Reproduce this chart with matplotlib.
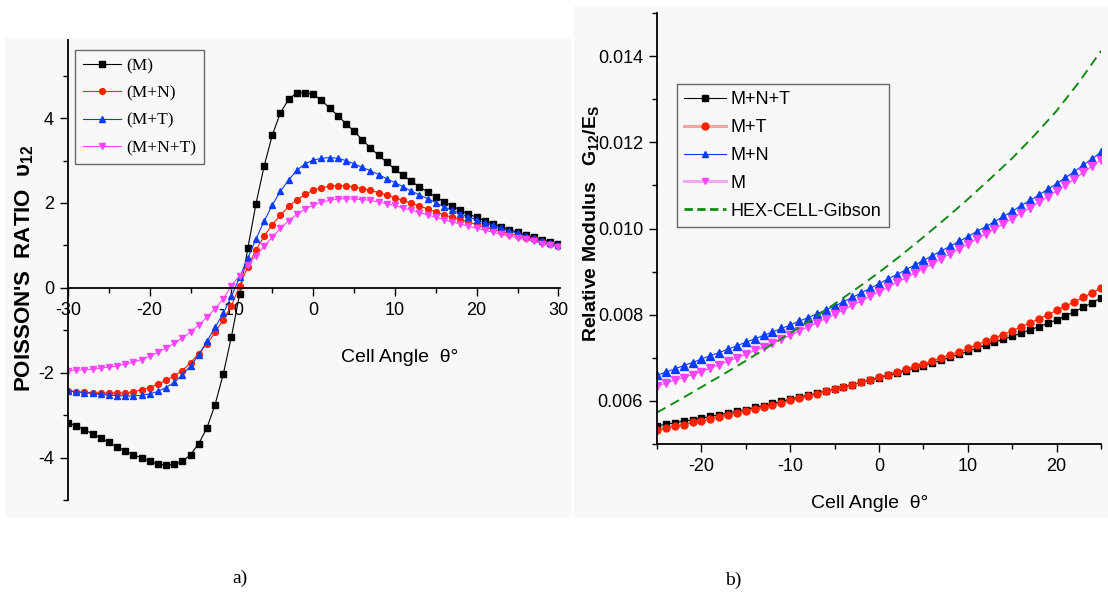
import numpy as np
import matplotlib.pyplot as plt
from matplotlib.lines import Line2D
from matplotlib.patches import Rectangle

plt.rcParams['font.family'] = ['Liberation Sans', 'DejaVu Sans']
plt.rcParams['axes.unicode_minus'] = False
plt.rcParams['mathtext.fontset'] = 'custom'
plt.rcParams['mathtext.rm'] = 'Liberation Sans:bold'
plt.rcParams['mathtext.default'] = 'rm'

# === panel a) : Poisson's ratio vs cell angle ===
angle_a = np.arange(-30, 31)
nu_M = [-3.18, -3.25, -3.34, -3.44, -3.54, -3.64, -3.75, -3.84, -3.93, -4.01,
        -4.09, -4.15, -4.18, -4.16, -4.09, -3.93, -3.67, -3.30, -2.75, -2.03,
        -1.15, -0.15, 0.93, 1.98, 2.87, 3.60, 4.13, 4.44, 4.60, 4.60,
        4.56, 4.42, 4.24, 4.06, 3.87, 3.69, 3.49, 3.30, 3.12, 2.96,
        2.79, 2.65, 2.51, 2.38, 2.26, 2.14, 2.03, 1.93, 1.83, 1.74,
        1.66, 1.58, 1.51, 1.44, 1.37, 1.31, 1.25, 1.19, 1.13, 1.08, 1.03]
nu_MN = [-2.43, -2.45, -2.46, -2.47, -2.48, -2.48, -2.48, -2.48, -2.45, -2.40,
         -2.35, -2.27, -2.18, -2.07, -1.95, -1.76, -1.55, -1.32, -1.05, -0.75,
         -0.42, 0.05, 0.50, 0.89, 1.22, 1.49, 1.71, 1.92, 2.07, 2.20,
         2.30, 2.36, 2.39, 2.41, 2.40, 2.38, 2.34, 2.30, 2.24, 2.19,
         2.12, 2.06, 1.99, 1.93, 1.86, 1.79, 1.72, 1.66, 1.61, 1.55,
         1.49, 1.43, 1.38, 1.32, 1.28, 1.23, 1.18, 1.14, 1.08, 1.04, 0.99]
nu_MT = [-2.42, -2.45, -2.47, -2.49, -2.51, -2.53, -2.54, -2.55, -2.55, -2.53,
         -2.50, -2.44, -2.35, -2.23, -2.05, -1.84, -1.58, -1.26, -0.93, -0.60,
         -0.20, 0.25, 0.70, 1.15, 1.57, 1.95, 2.28, 2.54, 2.77, 2.92,
         3.01, 3.05, 3.07, 3.05, 3.00, 2.92, 2.84, 2.76, 2.67, 2.57,
         2.48, 2.38, 2.28, 2.19, 2.10, 2.01, 1.91, 1.83, 1.75, 1.67,
         1.60, 1.53, 1.47, 1.40, 1.34, 1.29, 1.22, 1.17, 1.11, 1.06, 1.01]
nu_MNT = [-1.95, -1.94, -1.93, -1.92, -1.89, -1.87, -1.84, -1.80, -1.75, -1.69,
          -1.61, -1.52, -1.42, -1.31, -1.18, -1.04, -0.87, -0.69, -0.49, -0.26,
          0.05, 0.29, 0.53, 0.76, 0.98, 1.20, 1.40, 1.58, 1.73, 1.85,
          1.95, 2.02, 2.06, 2.09, 2.10, 2.09, 2.08, 2.06, 2.02, 1.98,
          1.94, 1.88, 1.83, 1.77, 1.72, 1.66, 1.61, 1.55, 1.51, 1.45,
          1.40, 1.36, 1.31, 1.26, 1.22, 1.18, 1.14, 1.10, 1.04, 1.00, 0.96]
labels_a = ['(M)', '(M+N)', '(M+T)', '(M+N+T)']

# === panel b) : relative shear modulus vs cell angle ===
angle_b = np.arange(-25, 26)
g_MNT = [0.00542, 0.00546, 0.00549, 0.00553, 0.00556, 0.00560,
         0.00564, 0.00568, 0.00572, 0.00576, 0.00580,
         0.00585, 0.00589, 0.00594, 0.00599, 0.00604,
         0.00609, 0.00613, 0.00618, 0.00623, 0.00628,
         0.00633, 0.00638, 0.00643, 0.00648, 0.00653,
         0.00659, 0.00664, 0.00670, 0.00676, 0.00682,
         0.00688, 0.00694, 0.00701, 0.00708, 0.00715,
         0.00722, 0.00729, 0.00736, 0.00743, 0.00750,
         0.00757, 0.00765, 0.00772, 0.00780, 0.00788,
         0.00797, 0.00807, 0.00817, 0.00828, 0.00839]
g_MT = [0.00533, 0.00537, 0.00541, 0.00545, 0.00550, 0.00554,
        0.00558, 0.00563, 0.00567, 0.00572, 0.00576,
        0.00581, 0.00586, 0.00591, 0.00596, 0.00601,
        0.00606, 0.00611, 0.00616, 0.00622, 0.00627,
        0.00632, 0.00638, 0.00643, 0.00649, 0.00655,
        0.00661, 0.00667, 0.00673, 0.00680, 0.00686,
        0.00693, 0.00700, 0.00707, 0.00714, 0.00722,
        0.00730, 0.00738, 0.00746, 0.00754, 0.00763,
        0.00772, 0.00781, 0.00790, 0.00800, 0.00810,
        0.00820, 0.00830, 0.00840, 0.00851, 0.00862]
g_MN = [0.00659, 0.00667, 0.00674, 0.00682, 0.00689, 0.00697,
        0.00705, 0.00712, 0.00720, 0.00728, 0.00736,
        0.00744, 0.00752, 0.00760, 0.00768, 0.00776,
        0.00785, 0.00793, 0.00802, 0.00811, 0.00820,
        0.00830, 0.00840, 0.00851, 0.00861, 0.00872,
        0.00883, 0.00893, 0.00904, 0.00915, 0.00926,
        0.00937, 0.00948, 0.00959, 0.00970, 0.00981,
        0.00993, 0.01004, 0.01016, 0.01028, 0.01040,
        0.01053, 0.01065, 0.01078, 0.01091, 0.01104,
        0.01118, 0.01132, 0.01147, 0.01162, 0.01177]
g_M = [0.00635, 0.00641, 0.00648, 0.00654, 0.00661, 0.00668,
       0.00676, 0.00684, 0.00692, 0.00700, 0.00708,
       0.00717, 0.00725, 0.00734, 0.00743, 0.00752,
       0.00762, 0.00772, 0.00781, 0.00791, 0.00801,
       0.00811, 0.00822, 0.00832, 0.00843, 0.00853,
       0.00864, 0.00875, 0.00885, 0.00896, 0.00907,
       0.00918, 0.00930, 0.00941, 0.00953, 0.00964,
       0.00976, 0.00988, 0.00999, 0.01011, 0.01023,
       0.01036, 0.01048, 0.01061, 0.01074, 0.01087,
       0.01101, 0.01115, 0.01130, 0.01145, 0.01160]
angle_gibson = np.arange(-25, 25.1, 2.5)
g_gibson = [0.00573, 0.00602, 0.00632, 0.00662, 0.00693, 0.00725, 0.00757,
            0.00790, 0.00825, 0.00861, 0.00898, 0.00938, 0.00980, 0.01023,
            0.01068, 0.01115, 0.01163, 0.01216, 0.01273, 0.01339, 0.01412]
labels_b = ['M+N+T', 'M+T', 'M+N', 'M', 'HEX-CELL-Gibson']

W, H = 1108, 594
bg = '#f8f8f8'
c_red, c_blue, c_pink, c_green = '#ff2200', '#0a3cff', '#ff44ff', '#138a13'


def fx(x):
    return x / W


def fy(y):
    return 1 - y / H


fig = plt.figure(figsize=(W / 100, H / 100), dpi=100)
fig.patch.set_facecolor('white')
fig.patches.append(Rectangle((fx(5), fy(516)), (570 - 5) / W, (516 - 38) / H,
                             transform=fig.transFigure, color=bg, zorder=-10))
fig.patches.append(Rectangle((fx(574), fy(516)), (1108 - 574) / W, (516 - 6) / H,
                             transform=fig.transFigure, color=bg, zorder=-10))

# ---------- left panel ----------
ax1 = fig.add_axes([fx(68), fy(500), (560 - 68) / W, (500 - 40) / H])
ax1.set_facecolor('none')
ms = 4.2
ax1.plot(angle_a, nu_M, '-s', color='black', lw=0.8, ms=ms, label=labels_a[0])
ax1.plot(angle_a, nu_MN, '-o', color=c_red, lw=0.8, ms=ms, label=labels_a[1])
ax1.plot(angle_a, nu_MT, '-^', color=c_blue, lw=0.8, ms=ms + 0.5, label=labels_a[2])
ax1.plot(angle_a, nu_MNT, '-v', color=c_pink, lw=0.8, ms=ms + 0.5, label=labels_a[3])
ax1.set_xlim(-30, 30.2)
ax1.set_ylim(-5, 5.84)
ax1.spines['bottom'].set_position(('data', 0))
ax1.spines[['top', 'right']].set_visible(False)
for s in ['left', 'bottom']:
    ax1.spines[s].set_linewidth(1.3)
ax1.set_xticks([-30, -20, -10, 0, 10, 20, 30])
ax1.set_xticks([-25, -15, -5, 5, 15, 25], minor=True)
ax1.set_yticks([-4, -2, 0, 2, 4])
ax1.set_yticks([-5, -3, -1, 1, 3, 5], minor=True)
ax1.tick_params(which='major', length=6, width=1, labelsize=13, pad=4)
ax1.tick_params(which='minor', length=3.5, width=1)
ax1.legend(loc='upper left', bbox_to_anchor=(fx(75), fy(50)), bbox_transform=fig.transFigure,
           prop={'family': 'Liberation Serif', 'size': 12.5}, fancybox=False,
           edgecolor='#666666', facecolor=bg, framealpha=1, borderaxespad=0,
           handlelength=2.2, handletextpad=0.3, labelspacing=0.65, borderpad=0.45)
fig.text(fx(400), fy(357), 'Cell Angle  θ°', fontsize=14, ha='center', va='center')
fig.text(fx(25), fy(268), "POISSON'S  RATIO  υ$_{12}$", fontsize=16, fontweight='bold',
         rotation=90, ha='center', va='center')
fig.text(fx(240), fy(578), 'a)', family='Liberation Serif', fontsize=14, ha='center', va='center')

# ---------- right panel ----------
ax2 = fig.add_axes([fx(657), fy(444), (1101 - 657) / W, (444 - 13) / H])
ax2.set_facecolor('none')
ms2 = 5
ax2.plot(angle_b, g_MNT, '-s', color='black', lw=0.8, ms=ms2 - 0.5)
ax2.plot(angle_b, g_MT, '-o', color=c_red, lw=0.8, ms=ms2)
ax2.plot(angle_b, g_MN, '-^', color=c_blue, lw=0.8, ms=ms2 + 0.5)
ax2.plot(angle_b, g_M, '-v', color=c_pink, lw=0.8, ms=ms2 + 0.5)
ax2.plot(angle_gibson, g_gibson, color=c_green, lw=1.4, ls=(0, (5, 3)))
ax2.set_xlim(-25, 25)
ax2.set_ylim(0.005, 0.015)
ax2.spines[['top', 'right']].set_visible(False)
for s in ['left', 'bottom']:
    ax2.spines[s].set_linewidth(1.3)
ax2.set_xticks([-20, -10, 0, 10, 20])
ax2.set_xticks([-25, -15, -5, 5, 15, 25], minor=True)
ax2.set_yticks([0.006, 0.008, 0.010, 0.012, 0.014])
ax2.set_yticklabels(['0.006', '0.008', '0.010', '0.012', '0.014'])
ax2.set_yticks([0.005, 0.007, 0.009, 0.011, 0.013, 0.015], minor=True)
ax2.tick_params(which='major', length=6, width=1, labelsize=13, pad=4)
ax2.tick_params(which='minor', length=3.5, width=1)

handles_b = [
    Line2D([], [], color='black', lw=0.8, marker='s', ms=4),
    Line2D([], [], color='#f6a49c', lw=2.2, marker='o', mfc=c_red, mec=c_red, ms=5),
    Line2D([], [], color=c_blue, lw=0.8, marker='^', ms=5),
    Line2D([], [], color='#f4a8f4', lw=2.2, marker='v', mfc=c_pink, mec=c_pink, ms=5),
    Line2D([], [], color=c_green, lw=2, ls=(0, (3, 1.6))),
]
ax2.legend(handles_b, labels_b, loc='upper left', bbox_to_anchor=(fx(677), fy(84)),
           bbox_transform=fig.transFigure, prop={'size': 13}, fancybox=False,
           edgecolor='#666666', facecolor=bg, framealpha=1, borderaxespad=0,
           handlelength=2.3, handletextpad=0.28, labelspacing=0.6, borderpad=0.4)
fig.text(fx(870), fy(503), 'Cell Angle  θ°', fontsize=14, ha='center', va='center')
fig.text(fx(591), fy(224), 'Relative Modulus   G$_{12}$/E$_S$', fontsize=14, fontweight='bold',
         rotation=90, ha='center', va='center')
fig.text(fx(733), fy(580), 'b)', family='Liberation Serif', fontsize=14, ha='center', va='center')

fig.savefig('out.png', dpi=100, facecolor='white')
